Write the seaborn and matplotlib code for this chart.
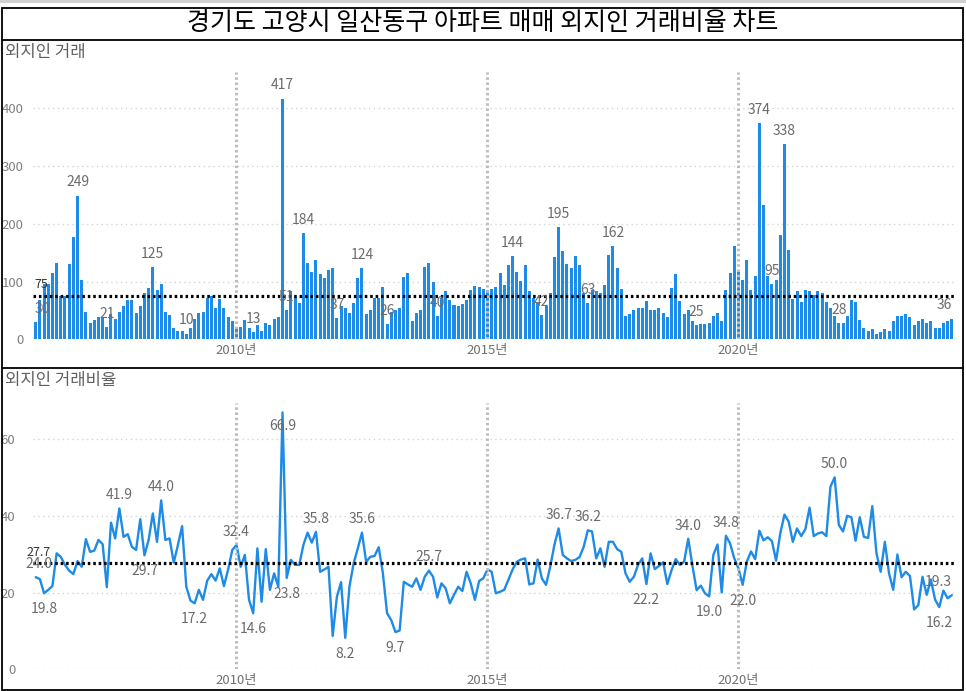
import numpy as np
import pandas as pd
import matplotlib
matplotlib.use("Agg")
import matplotlib.pyplot as plt
import seaborn as sns
from matplotlib.patches import Rectangle
from matplotlib.lines import Line2D

# ---------------- data ----------------
months = pd.date_range("2006-01-01", periods=220, freq="MS").strftime("%Y-%m").tolist()

count_vals = [
    30, 68, 96, 96, 114, 132, 75, 75, 130, 178, 249, 102, 48, 28, 33, 39, 38, 21, 44, 36,
    48, 57, 68, 68, 46, 57, 80, 88, 125, 85, 95, 47, 42, 20, 14, 14, 10, 20, 35, 46,
    48, 71, 75, 54, 69, 54, 38,
    32, 22, 22, 33, 19, 13, 24, 15, 28, 24, 35, 39, 417, 51, 83, 74, 62, 184, 132, 116,
    137, 113, 107, 120, 123, 37, 57, 54, 46, 62, 107, 124, 44, 50, 71, 72, 91, 26, 48, 51,
    54, 108, 114, 31, 45, 50, 125, 132, 100, 40, 71, 84, 68, 59, 57, 61, 68,
    85, 93, 90, 87, 86, 87, 90, 114, 94, 129, 144, 117, 101, 128, 83, 71, 62, 42, 57, 80,
    143, 195, 153, 130, 124, 145, 128, 81, 63, 86, 84, 81, 94, 146, 162, 124, 87, 41, 43, 50,
    54, 55, 67, 51, 51, 55, 46, 38, 88, 113, 66, 43, 50, 32, 25, 27, 26, 28, 41, 45,
    32, 85, 114, 162, 116, 103, 137, 85, 109, 374, 233, 110, 95, 103, 181, 338, 154, 69, 84, 64,
    85, 83, 77, 83, 81, 65, 54, 40, 28, 28, 40, 68, 64, 33, 20, 15, 17, 9, 13, 18,
    14, 31, 41, 40, 43, 39, 25, 31, 36, 29, 32, 19, 19, 28, 32, 36,
]

ratio_vals = [
    24.0, 23.5, 19.8, 20.7, 21.7, 30.2, 29.3, 27.2, 25.7, 24.8, 28.2, 26.7, 33.9, 30.6, 30.9, 33.7,
    32.6, 21.4, 38.2, 34.1, 41.9, 34.5, 35.2, 31.9, 31.1, 39.1, 29.7, 33.7, 40.6, 33.2, 44.0, 33.7,
    34.1, 27.8, 32.4, 37.3, 21.5, 17.9, 17.2, 20.7, 18.1, 23.1, 24.8, 23.1, 26.3, 21.7, 26.0,
    31.1, 32.4, 26.7, 29.8, 18.1, 14.6, 31.5, 17.6, 31.3, 20.7, 25.0, 21.5, 66.9, 23.8, 28.5, 27.2,
    27.2, 32.4, 35.6, 33.0, 35.8, 25.4, 26.0, 26.7, 8.7, 18.9, 22.7, 8.2, 21.5, 27.6, 31.5, 35.6,
    28.0, 29.3, 29.5, 31.8, 25.0, 14.6, 12.8, 9.7, 10.1, 22.8, 22.1, 21.5, 23.7, 20.7, 24.1, 25.7,
    24.1, 18.7, 22.4, 21.1, 17.2, 19.4, 21.5, 20.4, 25.4, 22.4, 18.1, 23.0,
    23.7, 26.0, 25.4, 19.8, 20.2, 20.7, 23.3, 26.0, 28.0, 28.6, 28.9, 22.1, 22.4, 28.6, 23.7, 22.0,
    26.7, 32.4, 36.7, 29.8, 28.9, 28.2, 28.5, 29.2, 31.9, 36.2, 35.9, 28.9, 31.5, 26.7, 33.2, 33.2,
    31.3, 30.6, 25.0, 22.8, 24.1, 27.2, 28.9, 22.2, 30.2, 26.1, 26.9, 27.9, 22.2, 25.8, 28.7, 27.2,
    28.0, 34.0, 27.0, 20.6, 21.8, 19.8, 19.0, 29.8, 32.5,
    20.0, 34.8, 32.8, 28.9, 26.3, 22.0, 28.0, 30.7, 28.7, 36.1, 33.6, 34.4, 33.4, 28.3, 35.4, 40.3,
    38.5, 33.2, 36.7, 34.7, 36.5, 42.1, 34.7, 35.4, 35.7, 34.7, 47.6, 50.0, 37.6, 35.9, 40.0, 39.6,
    33.5, 39.6, 34.5, 34.2, 42.5, 30.2, 25.4, 33.2, 25.0, 20.7, 29.9, 24.0, 25.4, 24.3, 15.6, 16.7,
    24.1, 19.4, 23.4, 18.2, 16.2, 20.5, 18.5, 19.3,
]

avg_count = 75
avg_ratio = 27.7

year_tick_months = ["2010-01", "2015-01", "2020-01"]
year_tick_labels = ["2010년", "2015년", "2020년"]

count_label_idx = [0, 10, 17, 28, 36, 52, 59, 60, 64, 72, 78, 84, 96, 114, 121, 125, 132, 138,
                   158, 173, 176, 179, 192, 219]
ratio_label_idx = [0, 2, 20, 26, 30, 38, 48, 52, 59, 60, 67, 74, 78, 86, 94, 125, 132, 146,
                   156, 161, 165, 169, 191, 216, 219]
ratio_label_below = {2, 26, 38, 52, 60, 74, 86, 146, 161, 169, 216}

title = "경기도 고양시 일산동구 아파트 매매 외지인 거래비율 차트"
sub1 = "외지인 거래"
sub2 = "외지인 거래비율"

df = pd.DataFrame({"month": months, "count": count_vals, "ratio": ratio_vals})
df["pos"] = np.arange(len(df))

# ---------------- style ----------------
sns.set_theme(style="white")
plt.rcParams["font.family"] = ["Noto Sans CJK KR", "DejaVu Sans"]

BLUE = "#1E8BE6"
W, H = 966, 691
fig = plt.figure(figsize=(W / 100, H / 100), dpi=100)


def rect(l, t, r, b):
    return [l / W, 1 - b / H, (r - l) / W, (b - t) / H]


n = len(months)
xl0, xl1 = -0.6, n - 1 + 0.6
pxu = 4.183
left_px = 35.7 + xl0 * pxu
right_px = 35.7 + xl1 * pxu

ax1 = fig.add_axes(rect(left_px, 72, right_px, 339.3))
ax2 = fig.add_axes(rect(left_px, 402.7, right_px, 669.3))

# top bars
sns.barplot(data=df, x="month", y="count", order=months, ax=ax1, color=BLUE,
            saturation=1, width=0.72, linewidth=0, zorder=2)
# bottom line
sns.lineplot(data=df, x="pos", y="ratio", ax=ax2, color=BLUE, linewidth=1.7, zorder=3)

year_pos = [months.index(m) for m in year_tick_months]

for ax, ylim, yt, avg, pad in [(ax1, 462.9, [0, 100, 200, 300, 400], avg_count, 7),
                               (ax2, 69.45, [0, 20, 40, 60], avg_ratio, 13)]:
    ax.set_xlim(xl0, xl1)
    ax.set_ylim(0, ylim)
    ax.set_yticks(yt)
    ax.set_yticklabels([str(v) for v in yt])
    ax.set_xticks(year_pos)
    ax.set_xticklabels(year_tick_labels)
    ax.set_xlabel("")
    ax.set_ylabel("")
    for s in ax.spines.values():
        s.set_visible(False)
    ax.yaxis.grid(True, color="#D4D4D4", linestyle=(0, (1, 2.5)), linewidth=1.0)
    ax.xaxis.grid(False)
    ax.set_axisbelow(True)
    ax.tick_params(axis="y", length=0, labelsize=9.5, labelcolor="#808080", pad=pad)
    ax.tick_params(axis="x", length=0, labelsize=9.5, labelcolor="#707070", pad=3.5)
    for p in year_pos:
        ax.axvline(p, color="#BDBDBD", lw=2.2, ls=(0, (0.8, 0.9)), zorder=4)
    ax.axhline(avg, color="black", lw=2.3, ls=(0, (0.8, 0.9)), zorder=5)
    ax.set_facecolor("white")

ax1.annotate(f"{avg_count}", xy=(1.3, avg_count), xytext=(0, 8), textcoords="offset points",
             ha="center", va="center", fontsize=9, color="#333333", zorder=6)
ax2.annotate(f"{avg_ratio:.1f}", xy=(0.6, avg_ratio), xytext=(0, 7.5), textcoords="offset points",
             ha="center", va="center", fontsize=9, color="#333333", zorder=6)


def label_align(i):
    # keep edge labels inside the plot, as the reference does
    if i == 0:
        return "left", -1
    if i == n - 1:
        return "right", 0
    return "center", 0


# data labels
for i in count_label_idx:
    ha, dx = label_align(i)
    ax1.annotate(f"{count_vals[i]}", xy=(i, count_vals[i]), xytext=(dx, 9.5),
                 textcoords="offset points", ha=ha, va="center",
                 fontsize=10, color="#6b6b6b", zorder=7)

for i in ratio_label_idx:
    v = ratio_vals[i]
    if i == 59:
        off = -10
    elif i in ratio_label_below:
        off = -11.5
    else:
        off = 9.5
    ha, dx = label_align(i)
    if i == 0:
        ha, dx = "center", 2
    ax2.annotate(f"{v:.1f}", xy=(i, v), xytext=(dx, off), textcoords="offset points",
                 ha=ha, va="center", fontsize=10, color="#6b6b6b", zorder=7)

# ---------------- frame & titles ----------------
def fx(x):
    return x / W


def fy(y):
    return 1 - y / H


fig.add_artist(Rectangle((0, fy(3)), 1, 3 / H, transform=fig.transFigure,
                         color="#D0D0D0", lw=0))
fig.add_artist(Rectangle((fx(2), fy(690)), (963 - 2) / W, (690 - 8) / H,
                         transform=fig.transFigure, fill=False, ec="black", lw=1.3))
for yy in (40, 368):
    fig.add_artist(Line2D([fx(2), fx(963)], [fy(yy), fy(yy)], transform=fig.transFigure,
                          color="black", lw=1.3))

fig.text(fx(483), fy(23), title, ha="center", va="center", fontsize=18, color="black")
fig.text(fx(5), fy(52), sub1, ha="left", va="center", fontsize=12, color="#606060")
fig.text(fx(5), fy(381), sub2, ha="left", va="center", fontsize=12, color="#606060")

fig.savefig("out.png", dpi=100)
